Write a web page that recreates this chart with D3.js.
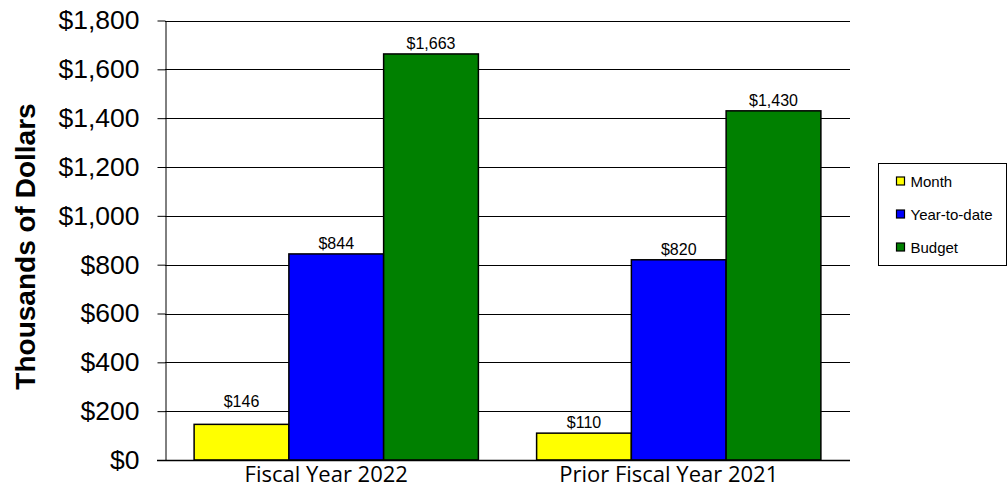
<!DOCTYPE html>
<html>
<head>
<meta charset="utf-8">
<script src="https://cdn.jsdelivr.net/npm/d3@7"></script>
<style>
  html, body { margin: 0; padding: 0; background: #fff; }
  svg { display: block; }
</style>
</head>
<body>
<svg id="chart" width="1007" height="491"></svg>
<script>
// Chart data
const categories = ["Fiscal Year 2022", "Prior Fiscal Year 2021"];
const seriesNames = ["Month", "Year-to-date", "Budget"];
const monthValues = [146, 110];
const ytdValues = [844, 820];
const budgetValues = [1663, 1430];
const seriesColors = ["#FFFF00", "#0000FF", "#008000"];
const yTicks = [0, 200, 400, 600, 800, 1000, 1200, 1400, 1600, 1800];

const seriesValues = [monthValues, ytdValues, budgetValues];

const svg = d3.select("#chart");
const plot = { left: 165, right: 850, top: 20.5, bottom: 460 };

const y = d3.scaleLinear().domain([0, 1800]).range([plot.bottom, plot.top]);
const x0 = d3.scaleBand().domain(categories).range([plot.left, plot.right])
  .paddingInner(0.17).paddingOuter(0.085);
const x1 = d3.scaleBand().domain(seriesNames).range([0, x0.bandwidth()]).padding(0);

const fmt = v => "$" + d3.format(",")(v);

// Gridlines
svg.append("g")
  .selectAll("line")
  .data(yTicks.filter(t => t > 0))
  .join("line")
  .attr("x1", plot.left).attr("x2", plot.right)
  .attr("y1", d => Math.round(y(d)) + 0.5).attr("y2", d => Math.round(y(d)) + 0.5)
  .attr("stroke", "#000").attr("stroke-width", 1);

// Y axis
const yAxis = svg.append("g")
  .attr("transform", `translate(${plot.left + 0.5},0)`)
  .call(d3.axisLeft(y).tickValues(yTicks).tickFormat(fmt).tickSize(8).tickPadding(18).tickSizeOuter(0));
yAxis.select(".domain").attr("stroke", "#000");
yAxis.selectAll(".tick line").attr("stroke", "#000");
yAxis.selectAll(".tick text")
  .attr("fill", "#000")
  .style("font-family", "'Liberation Sans', Arial, sans-serif")
  .style("font-size", "26.5px");

// Bars
const groups = svg.append("g")
  .selectAll("g")
  .data(categories)
  .join("g")
  .attr("transform", d => `translate(${x0(d)},0)`);

const barData = (cat, ci) => seriesNames.map((s, si) => ({
  series: s, value: seriesValues[si][ci], color: seriesColors[si]
}));

groups.each(function (cat, ci) {
  const g = d3.select(this);
  const data = barData(cat, ci);
  g.selectAll("rect")
    .data(data)
    .join("rect")
    .attr("x", d => x1(d.series))
    .attr("y", d => y(d.value))
    .attr("width", x1.bandwidth())
    .attr("height", d => y(0) - y(d.value))
    .attr("fill", d => d.color)
    .attr("stroke", "#000")
    .attr("stroke-width", 1.5);

  // Value labels, lifted above a gridline they would otherwise cross
  g.selectAll("text")
    .data(data)
    .join("text")
    .attr("x", d => x1(d.series) + x1.bandwidth() / 2)
    .attr("y", d => {
      let base = y(d.value) - 5;
      const topEdge = base - 12;
      yTicks.forEach(t => {
        const gy = y(t);
        if (t > 0 && gy > topEdge && gy < base + 1) base = gy - 4;
      });
      return base;
    })
    .attr("text-anchor", "middle")
    .style("font-family", "'Liberation Sans', Arial, sans-serif")
    .style("font-size", "16px")
    .attr("fill", "#000")
    .text(d => fmt(d.value));
});

// X axis baseline and category labels
svg.append("line")
  .attr("x1", plot.left - 8).attr("x2", plot.right)
  .attr("y1", plot.bottom + 0.5).attr("y2", plot.bottom + 0.5)
  .attr("stroke", "#000").attr("stroke-width", 1.5);

svg.append("g")
  .selectAll("text")
  .data(categories)
  .join("text")
  .attr("x", d => x0(d) + x0.bandwidth() / 2 - 10)
  .attr("y", plot.bottom + 22)
  .attr("text-anchor", "middle")
  .style("font-family", "'Open Sans', Lato, sans-serif")
  .style("font-size", "22px")
  .attr("fill", "#000")
  .text(d => d);

// Y axis title
svg.append("text")
  .attr("transform", "translate(35,246.5) rotate(-90)")
  .attr("text-anchor", "middle")
  .style("font-family", "'Liberation Sans', Arial, sans-serif")
  .style("font-size", "28px")
  .style("font-weight", "bold")
  .attr("fill", "#000")
  .text("Thousands of Dollars");

// Legend
const legend = svg.append("g").attr("transform", "translate(878.5,163.5)");
legend.append("rect")
  .attr("width", 128).attr("height", 102)
  .attr("fill", "#fff").attr("stroke", "#000").attr("stroke-width", 1);
const items = legend.selectAll("g.item")
  .data(seriesNames)
  .join("g")
  .attr("class", "item")
  .attr("transform", (d, i) => `translate(18,${17.5 + i * 33})`);
items.append("rect")
  .attr("x", 0).attr("y", -4).attr("width", 8).attr("height", 8)
  .attr("fill", (d, i) => seriesColors[i])
  .attr("stroke", "#000").attr("stroke-width", 1.2);
items.append("text")
  .attr("x", 14).attr("y", 5.5)
  .style("font-family", "'Liberation Sans', Arial, sans-serif")
  .style("font-size", "15px")
  .attr("fill", "#000")
  .text(d => d);
</script>
</body>
</html>
